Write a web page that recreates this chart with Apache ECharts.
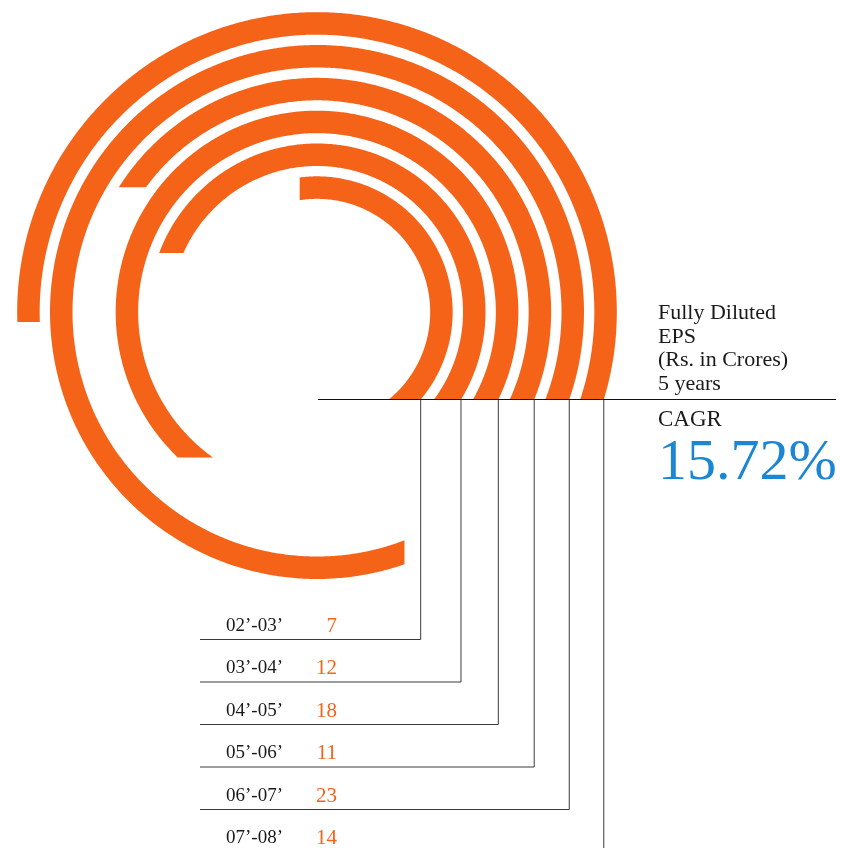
<!DOCTYPE html>
<html><head><meta charset="utf-8">
<script src="https://cdn.jsdelivr.net/npm/echarts@6/dist/echarts.min.js"></script>
<style>html,body{margin:0;padding:0;background:#fff}#c{width:841px;height:848px}</style>
</head><body><div id="c"></div>
<script>
// ---- data ----
const periods = ['02’-03’', '03’-04’', '04’-05’', '05’-06’', '06’-07’', '07’-08’'];
const epsValues = [7, 12, 18, 11, 23, 14];
const headingLines = ['Fully Diluted', 'EPS', '(Rs. in Crores)', '5 years'];
const cagrTitle = 'CAGR';
const cagrValue = '15.72%';

// ---- style / layout ----
const ORANGE = '#F46318';
const BLUE = '#1A86D4';
const SERIF = '"Liberation Serif", "DejaVu Serif", serif';
const Y_BASE = 399.5;
const ROW_TOP = 639.5, ROW_GAP = 42.5, ROW_LEFT = 200;
const LABEL_X = 226, VALUE_X = 337;
const BAND_RATIO = 0.685;

function cutAngle(kind, rm, r, th) {
  let a;
  if (kind === 'h') {
    const s = Math.max(-1, Math.min(1, Math.sin(th) * rm / r));
    a = Math.asin(s);
    if (Math.cos(th) < 0) a = Math.PI - a;
  } else {
    const c = Math.max(-1, Math.min(1, Math.cos(th) * rm / r));
    a = Math.acos(c);
    if (Math.sin(th) < 0) a = -a;
  }
  a += 2 * Math.PI * Math.round((th - a) / (2 * Math.PI));
  return a;
}
function arcPts(cx, cy, r, a0, a1, out) {
  const n = Math.max(2, Math.ceil(Math.abs(a1 - a0) / (Math.PI / 360)));
  for (let k = 0; k <= n; k++) {
    const a = a0 + (a1 - a0) * k / n;
    out.push([cx + r * Math.cos(a), cy - r * Math.sin(a)]);
  }
}

function renderItem(params, api) {
  const cs = params.coordSys;
  const cx = cs.cx, cy = cs.cy;
  const idx = params.dataIndex;
  const pt = api.coord([api.value(0), api.value(1)]);
  const rm = Math.hypot(pt[0] - cx, pt[1] - cy);
  const band = api.size([1, 1])[0];
  const half = band * BAND_RATIO / 2;
  const ro = rm + half, ri = rm - half;
  const dy0 = Y_BASE - cy;
  const thS = -Math.asin(dy0 / rm);
  let thE = Math.atan2(cy - pt[1], pt[0] - cx);
  while (thE <= thS) thE += 2 * Math.PI;
  const deg = ((thE * 180 / Math.PI) % 360 + 360) % 360;
  const dv = Math.min(Math.abs(deg - 90), Math.abs(deg - 270));
  const endKind = dv < 22 ? 'v' : 'h';
  const sO = cutAngle('h', rm, ro, thS), sI = cutAngle('h', rm, ri, thS);
  const eO = cutAngle(endKind, rm, ro, thE), eI = cutAngle(endKind, rm, ri, thE);
  const pts = [];
  arcPts(cx, cy, ro, sO, eO, pts);
  arcPts(cx, cy, ri, eI, sI, pts);
  const xl = cx + Math.sqrt(ro * ro - dy0 * dy0);
  const yRow = ROW_TOP + idx * ROW_GAP;
  return {
    type: 'group',
    children: [
      { type: 'polygon', shape: { points: pts }, style: { fill: ORANGE } },
      { type: 'polyline', shape: { points: [[xl, Y_BASE], [xl, yRow], [ROW_LEFT, yRow]] },
        style: { stroke: '#3a3a3a', lineWidth: 1, fill: null }, z2: 5 },
      { type: 'text', style: { text: periods[idx], x: LABEL_X, y: yRow - 13.5, font: '19px ' + SERIF,
        fill: '#1a1a1a', verticalAlign: 'middle', align: 'left' } },
      { type: 'text', style: { text: String(api.value(1)), x: VALUE_X, y: yRow - 13.5, font: '21px ' + SERIF,
        fill: ORANGE, verticalAlign: 'middle', align: 'right' } }
    ]
  };
}

const chart = echarts.init(document.getElementById('c'), null, { renderer: 'canvas' });
const graphics = [
  { type: 'line', shape: { x1: 318, y1: Y_BASE, x2: 836, y2: Y_BASE }, style: { stroke: '#111', lineWidth: 1 }, z: 100 }
];
headingLines.forEach((t, i) => {
  graphics.push({ type: 'text', x: 658, y: 313.5 + i * 23.5, z: 100,
    style: { text: t, font: '22px ' + SERIF, fill: '#1a1a1a', verticalAlign: 'middle' } });
});
graphics.push({ type: 'text', x: 658, y: 420, z: 100,
  style: { text: cagrTitle, font: '23px ' + SERIF, fill: '#1a1a1a', verticalAlign: 'middle' } });
graphics.push({ type: 'text', x: 658, y: 464, z: 100,
  style: { text: cagrValue, font: '58px ' + SERIF, fill: BLUE, verticalAlign: 'middle' } });

chart.setOption({
  animation: false,
  backgroundColor: '#fff',
  polar: { center: [317, 312], radius: [108, 305] },
  angleAxis: { type: 'value', min: 0, max: 30, startAngle: 14, clockwise: false, show: false,
    axisLine: { show: false }, axisTick: { show: false }, axisLabel: { show: false }, splitLine: { show: false } },
  radiusAxis: { type: 'category', data: periods, show: false,
    axisLine: { show: false }, axisTick: { show: false }, axisLabel: { show: false }, splitLine: { show: false } },
  graphic: graphics,
  series: [{
    type: 'custom', coordinateSystem: 'polar',
    data: epsValues.map((v, i) => [i, v]),
    renderItem: renderItem
  }]
});
</script>
</body></html>
